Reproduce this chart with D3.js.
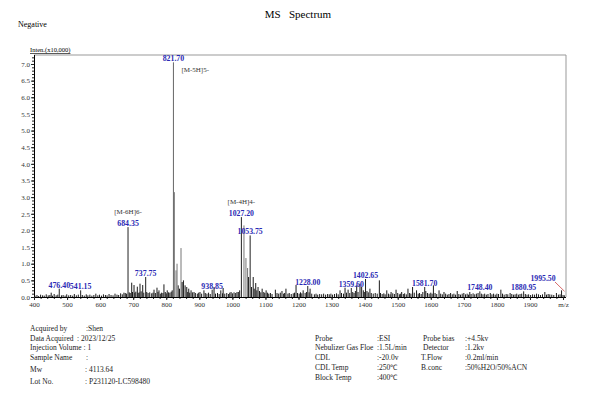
<!DOCTYPE html>
<html lang="en">
<head>
<meta charset="UTF-8">
<script src="https://d3js.org/d3.v7.min.js"></script>
<style>
	body { margin: 0; background: #fff; }
	text { font-family: "Liberation Serif", "Times New Roman", serif; }
</style>
<title>MS Spectrum</title>
</head>
<body>
<div id="chart"></div>
<script>
// labelled peaks (m/z, intensity x10,000)
const labelMz  = [476.40, 541.15, 684.35, 737.75, 821.70, 938.85, 1027.20, 1053.75, 1228.00, 1359.60, 1402.65, 1581.70, 1748.40, 1880.95, 1995.50];
const labelInt = [0.25, 0.20, 2.10, 0.60, 7.05, 0.22, 2.40, 1.85, 0.33, 0.27, 0.54, 0.30, 0.17, 0.17, 0.20];

// ion annotations
const ionText = ["[M-6H]6-", "[M-5H]5-", "[M-4H]4-"];
const ionMz   = [684.35, 821.70, 1027.20];

// other visible peaks
const minorPeaks = [
	[452, 0.13], [587, 0.10], [672, 0.13], [695.5, 0.43], [702.5, 0.36], [712.5, 0.31], [720.6, 0.40],
	[728.8, 0.36], [763, 0.22], [772, 0.28], [778, 0.20], [793, 0.38], [803, 0.20], [824.5, 3.15],
	[829.5, 0.80], [832.6, 1.00], [844.6, 1.47], [848, 0.45], [852, 0.50], [857, 0.35], [862, 0.30],
	[868, 0.25], [875, 0.20], [884, 0.15], [902, 0.15], [914, 0.20], [944.5, 0.30], [965, 0.20],
	[972, 0.27], [996, 0.15], [1014, 0.15], [1035, 2.15], [1041, 1.17], [1046, 0.87], [1049, 0.60],
	[1063, 0.60], [1070.6, 0.42], [1077.6, 0.30], [1090, 0.25], [1102, 0.20], [1130, 0.22],
	[1150, 0.18], [1162, 0.25], [1192.5, 0.36], [1214, 0.20], [1235, 0.25], [1325.6, 0.20],
	[1340.7, 0.28], [1350, 0.22], [1376, 0.35], [1386, 0.40], [1391, 0.30], [1416, 0.25],
	[1444.5, 0.50], [1467, 0.20], [1480, 0.15], [1495, 0.22], [1512, 0.15], [1531, 0.25],
	[1545, 0.30], [1557, 0.20], [1608, 0.35], [1625, 0.20], [1640, 0.15], [1660, 0.12],
	[1680, 0.18], [1700, 0.12], [1718, 0.15], [1780, 0.12], [1800, 0.10], [1812, 0.22],
	[1840, 0.12], [1860, 0.10], [1920, 0.10], [1945, 0.15], [1960, 0.08], [1980, 0.12]
];

// baseline noise
const noise = [
	[403,.04],[409,.06],[414,.03],[420,.07],[426,.05],[431,.04],[437,.08],[443,.05],[448,.06],[456,.04],
	[461,.09],[467,.05],[472,.07],[483,.05],[488,.06],[494,.04],[499,.08],[505,.05],[511,.06],[517,.04],
	[522,.09],[528,.05],[534,.07],[546,.06],[552,.04],[558,.08],[563,.05],[569,.07],[575,.04],[581,.06],
	[593,.05],[598,.07],[604,.04],[610,.08],[616,.06],[621,.05],[627,.09],[633,.06],[639,.05],[645,.10],
	[651,.07],[656,.06],[662,.11],[667,.08],[676,.12],[680,.10],[688,.14],[691,.12],[698,.15],[705,.13],
	[708,.16],[715,.12],[718,.14],[724,.17],[732,.13],[741,.15],[745,.12],[750,.14],[756,.11],[760,.13],
	[767,.12],[775,.15],[782,.10],[786,.13],[790,.12],[797,.15],[800,.11],[807,.14],[811,.13],[815,.16],
	[818,.20],[836,.35],[840,.25],[865,.15],[871,.13],[879,.14],[888,.12],[894,.10],[898,.13],[907,.10],
	[918,.12],[923,.10],[928,.13],[933,.09],[949,.10],[955,.12],[960,.09],[970,.11],[977,.10],[983,.12],
	[988,.09],[992,.13],[1000,.11],[1005,.14],[1010,.12],[1018,.15],[1022,.20],[1058,.30],[1066,.25],
	[1074,.20],[1082,.18],[1086,.14],[1095,.15],[1098,.12],[1106,.13],[1110,.10],[1115,.12],[1120,.09],
	[1135,.12],[1140,.10],[1145,.13],[1155,.10],[1158,.12],[1168,.10],[1172,.12],[1178,.09],[1184,.11],
	[1188,.13],[1197,.12],[1202,.10],[1206,.14],[1210,.11],[1220,.12],[1224,.15],[1232,.14],[1240,.10],
	[1248,.08],[1253,.10],[1258,.07],[1264,.09],[1270,.08],[1276,.10],[1282,.07],[1288,.09],[1293,.08],
	[1298,.10],[1303,.07],[1309,.09],[1315,.11],[1320,.08],[1330,.12],[1336,.10],[1345,.13],[1355,.12],
	[1364,.15],[1368,.12],[1372,.18],[1380,.15],[1396,.20],[1399,.15],[1407,.18],[1411,.14],[1420,.12],
	[1426,.10],[1432,.12],[1438,.10],[1448,.12],[1453,.09],[1458,.11],[1462,.08],[1472,.10],[1477,.08],
	[1485,.11],[1490,.09],[1500,.12],[1505,.08],[1508,.10],[1517,.09],[1521,.11],[1526,.08],[1536,.12],
	[1540,.10],[1550,.13],[1562,.10],[1566,.12],[1571,.09],[1576,.15],[1585,.18],[1590,.12],[1595,.10],
	[1600,.13],[1604,.10],[1613,.12],[1618,.09],[1630,.10],[1635,.08],[1645,.10],[1650,.07],[1655,.09],
	[1665,.08],[1670,.10],[1675,.07],[1685,.09],[1690,.07],[1695,.10],[1705,.08],[1710,.10],[1714,.07],
	[1722,.09],[1728,.11],[1733,.08],[1738,.10],[1743,.12],[1753,.10],[1758,.08],[1763,.10],[1768,.07],
	[1773,.09],[1785,.08],[1790,.10],[1795,.07],[1805,.09],[1817,.10],[1822,.07],[1828,.09],[1833,.08],
	[1845,.09],[1850,.07],[1855,.08],[1865,.07],[1870,.09],[1875,.10],[1886,.09],[1891,.07],[1896,.08],
	[1902,.06],[1908,.08],[1914,.07],[1926,.08],[1932,.06],[1938,.08],[1950,.07],[1955,.09],[1966,.07],
	[1972,.06],[1986,.07],[1991,.08],[2000,.06],[2004,.05]
];

// instrument info
const infoLeftKeys = ["Acquired by", "Data Acquired", "Injection Volume : 1", "Sample Name", "Mw", "Lot No."];
const infoLeftVals = [":Shen", ": 2023/12/25", "", ":", ": 4113.64", ": P231120-LC598480"];
const infoMidKeys  = ["Probe", "Nebulizer Gas Floe", "CDL", "CDL Temp", "Block Temp"];
const infoMidVals  = [":ESI", ":1.5L/min", ":-20.0v", ":250\u2103", ":400\u2103"];
const infoRightKeys = ["Probe bias", "Detector", "T.Flow", "B.conc"];
const infoRightVals = [":+4.5kv", ":1.2kv", ":0.2ml/min", ":50%H2O/50%ACN"];

const W = 594, H = 399;
const plotL = 34, plotR = 566, plotT = 55, plotB = 297;

const svg = d3.select("#chart").append("svg")
	.attr("width", W).attr("height", H)
	.style("background", "#fff");

const x = d3.scaleLinear([400, 2009], [plotL, plotR]);
const y = d3.scaleLinear([0, 7.27], [plotB, plotT]);

// titles
svg.append("text").attr("x", 298).attr("y", 18).attr("text-anchor", "middle")
	.attr("font-size", 11).attr("xml:space", "preserve").text("MS   Spectrum");
svg.append("text").attr("x", 18).attr("y", 27).attr("font-size", 8).text("Negative");
svg.append("text").attr("x", 30).attr("y", 52).attr("font-size", 6.5)
	.attr("text-decoration", "underline").text("Inten.(x10,000)");

// frame
svg.append("line").attr("x1", plotL).attr("x2", plotR).attr("y1", plotT).attr("y2", plotT)
	.attr("stroke", "#999").attr("stroke-width", 1);
svg.append("line").attr("x1", plotR).attr("x2", plotR).attr("y1", plotT).attr("y2", plotB)
	.attr("stroke", "#999").attr("stroke-width", 1);

// y axis
const yMinor = svg.append("g").attr("transform", `translate(${plotL},0)`)
	.call(d3.axisLeft(y).tickValues(d3.range(0, 7.25, 0.1)).tickSize(2).tickFormat(""));
const yAxis = svg.append("g").attr("transform", `translate(${plotL},0)`)
	.call(d3.axisLeft(y).tickValues(d3.range(0, 7.01, 0.5)).tickSize(3).tickPadding(1).tickFormat(d3.format(".1f")));
yMinor.select(".domain").remove();
yAxis.select(".domain").attr("d", `M0.5,${plotT}V${plotB}`);

// x axis
const xMinor = svg.append("g").attr("transform", `translate(0,${plotB})`)
	.call(d3.axisBottom(x).tickValues(d3.range(400, 2001, 20)).tickSize(2).tickFormat(""));
const xAxis = svg.append("g").attr("transform", `translate(0,${plotB})`)
	.call(d3.axisBottom(x).tickValues(d3.range(400, 2001, 100)).tickSize(3).tickPadding(2)
		.tickFormat(d => d === 2000 ? "m/z" : d));
xMinor.select(".domain").remove();
xAxis.select(".domain").attr("d", `M${plotL},0.5H${plotR}`);

[yMinor, yAxis, xMinor, xAxis].forEach(g => {
	g.selectAll("text").attr("font-family", "Liberation Serif").attr("font-size", 7).attr("fill", "#333");
	g.selectAll("line").attr("stroke", "#222");
});

// spectrum sticks
const sticks = svg.append("g").attr("stroke", "#1a1a1a").attr("stroke-width", 1);
sticks.selectAll(".noise").data(noise).join("line").attr("class", "noise")
	.attr("x1", d => x(d[0])).attr("x2", d => x(d[0]))
	.attr("y1", y(0)).attr("y2", d => y(d[1]));
sticks.selectAll(".minor").data(minorPeaks).join("line").attr("class", "minor")
	.attr("stroke", d => d[1] > 0.7 ? "#777" : "#1a1a1a")
	.attr("x1", d => x(d[0])).attr("x2", d => x(d[0]))
	.attr("y1", y(0)).attr("y2", d => y(d[1]));
sticks.selectAll(".main").data(labelMz).join("line").attr("class", "main")
	.attr("stroke", (d, i) => labelInt[i] > 5 ? "#666" : "#222")
	.attr("x1", d => x(d)).attr("x2", d => x(d))
	.attr("y1", y(0)).attr("y2", (d, i) => y(labelInt[i]));

// peak labels
const fmt = d3.format(".2f");
const labelY = (i) => y(labelInt[i]) - 1;
svg.append("g").selectAll("text").data(labelMz).join("text")
	.attr("x", (d, i) => d === 1995.50 ? 543 : x(d))
	.attr("y", (d, i) => d === 1995.50 ? 281 : labelY(i))
	.attr("text-anchor", "middle")
	.attr("font-family", "Liberation Sans, Arial, sans-serif")
	.attr("font-weight", "bold")
	.attr("font-size", 8.5)
	.attr("fill", "#2a2ab4")
	.attr("textLength", d => fmt(d).length * 3.6)
	.attr("lengthAdjust", "spacingAndGlyphs")
	.text(d => fmt(d));

// leader line for the last label
const lastI = labelMz.length - 1;
svg.append("line").attr("x1", 555).attr("y1", 282)
	.attr("x2", x(labelMz[lastI]) + 3).attr("y2", y(labelInt[lastI]) + 1)
	.attr("stroke", "#c44").attr("stroke-width", 0.8);

// ion annotations
ionText.forEach((t, k) => {
	const i = labelMz.indexOf(ionMz[k]);
	const five = t === "[M-5H]5-";
	svg.append("text")
		.attr("x", five ? x(ionMz[k]) + 8 : x(ionMz[k]))
		.attr("y", five ? labelY(i) + 11 : labelY(i) - 12)
		.attr("text-anchor", five ? "start" : "middle")
		.attr("font-size", 7).attr("fill", "#333")
		.text(t);
});

// info table
const info = svg.append("g").attr("font-size", 7.5).attr("fill", "#222");
const leftRows = [331, 341, 350, 360, 372, 384];
infoLeftKeys.forEach((k, i) => {
	info.append("text").attr("x", 30).attr("y", leftRows[i]).text(k);
	info.append("text").attr("x", i === 0 || i === 3 ? 86 : (i === 1 ? 77 : 85)).attr("y", leftRows[i]).text(infoLeftVals[i]);
});
const midRows = [341, 350, 360, 370, 380];
infoMidKeys.forEach((k, i) => {
	info.append("text").attr("x", 315).attr("y", midRows[i]).text(k);
	info.append("text").attr("x", 377).attr("y", midRows[i]).text(infoMidVals[i]);
});
infoRightKeys.forEach((k, i) => {
	info.append("text").attr("x", i < 2 ? 423 : 421).attr("y", midRows[i]).text(k);
	info.append("text").attr("x", 465).attr("y", midRows[i]).text(infoRightVals[i]);
});
</script>
</body>
</html>
